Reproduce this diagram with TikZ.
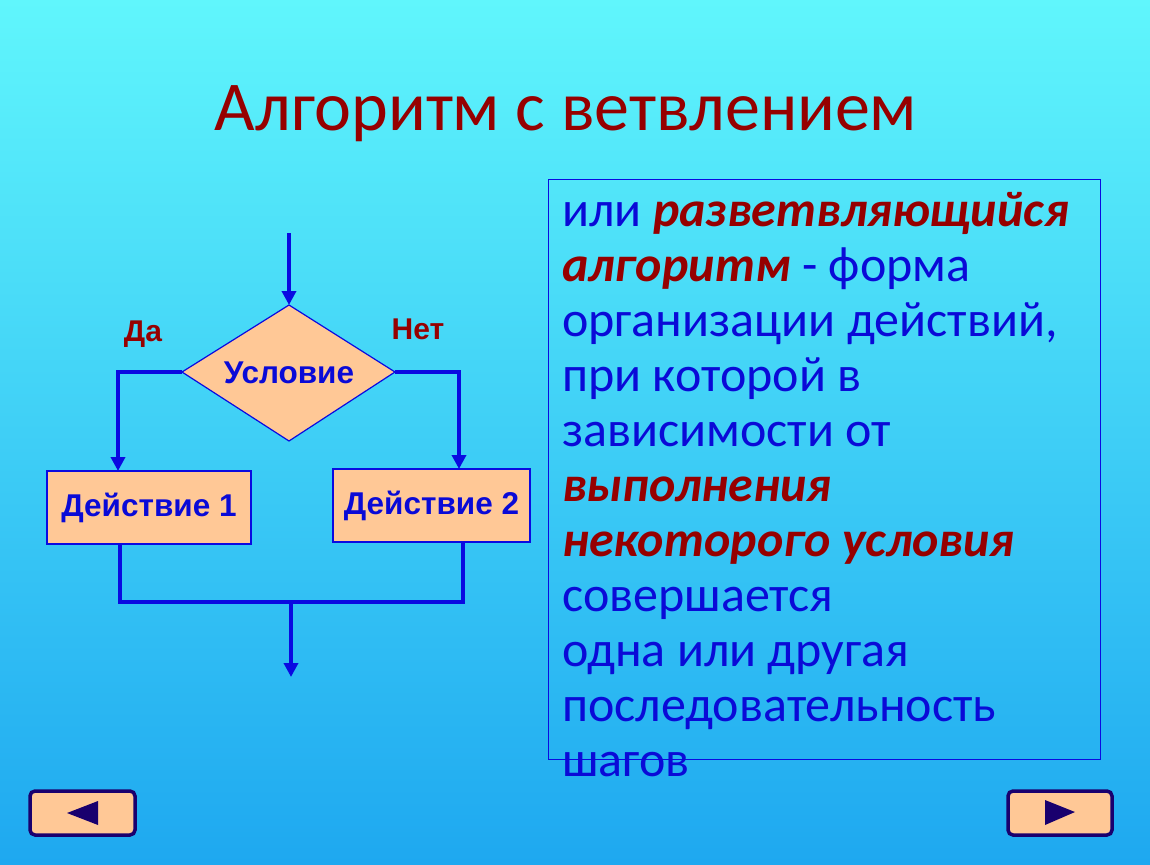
\documentclass[tikz,border=0pt]{standalone}
\usepackage{fontspec}
\setmainfont{Carlito}
\newfontfamily\arialf{Liberation Sans}
\usetikzlibrary{arrows.meta}
\definecolor{bgtop}{RGB}{96,246,252}
\definecolor{bgbot}{RGB}{30,168,240}
\definecolor{dred}{RGB}{150,0,0}
\definecolor{tblue}{RGB}{10,10,215}
\definecolor{lblue}{RGB}{10,10,225}
\definecolor{peach}{RGB}{255,200,150}
\definecolor{navy}{RGB}{25,0,110}
\tikzset{
  flow/.style={draw=lblue, line width=4pt},
  arr/.style={flow, -{Triangle[length=14pt,width=14pt]}},
  actbox/.style={draw=lblue, line width=1.2pt, fill=peach, minimum width=204pt, minimum height=73pt, inner sep=0pt,
    font=\arialf\bfseries\fontsize{31.5}{36}\selectfont, text=tblue},
  lbl/.style={font=\arialf\bfseries\fontsize{30}{34}\selectfont, text=dred},
  txt/.style={anchor=base west, inner sep=0pt, font=\fontsize{50}{56}\selectfont, text=tblue},
  navbtn/.style={draw=navy, line width=3.5pt, fill=peach, rounded corners=5pt},
}
\newcommand{\redit}[1]{{\bfseries\itshape\color{dred}#1}}
\begin{document}
\begin{tikzpicture}[x=1pt,y=-1pt]
\useasboundingbox (0,0) rectangle (1150,864);
\shade[top color=bgtop, bottom color=bgbot] (0,0) rectangle (1150,864);

% title
\node[anchor=base, inner sep=0pt, font=\fontsize{70}{80}\selectfont, text=dred] (title) at (566,131) {Алгоритм с ветвлением};

% flowchart
\coordinate (start) at (289,233);
\draw[draw=lblue, line width=1.2pt, fill=peach] (182,372) -- (289,305) -- (395,372) -- (289,441) -- cycle;
\coordinate (dl) at (182,372);
\coordinate (dt) at (289,305);
\coordinate (dr) at (395,372);
\node[inner sep=0pt, font=\arialf\bfseries\fontsize{31.5}{36}\selectfont, text=tblue] (cond) at (289,373) {Условие};
\node[actbox] (a1) at (149,507.5) {Действие 1};
\node[actbox, minimum width=197pt] (a2) at (431.5,505.5) {Действие 2};
\node[lbl] (yes) at (143,334) {Да};
\node[lbl] (no) at (418,329) {Нет};

\coordinate (a1in) at (118,471);
\coordinate (a2in) at (459,469);
\draw[arr] (start) -- (dt);
\draw[arr] (dl) -- (118,372) -- (a1in);
\draw[arr] (dr) -- (459,372) -- (a2in);
\coordinate (a1out) at (120,544);
\coordinate (a2out) at (463,542);
\coordinate (join) at (291,602);
\coordinate (endp) at (291,677);
\draw[flow] (a1out) -- (120,602) -- (463,602) -- (a2out);
\draw[arr] (join) -- (endp);

% definition box
\draw[draw=lblue, line width=0.8pt] (548,179) rectangle (1100,759);
\node[txt] (l1) at (562,226) {или \redit{разветвляющийся}};
\node[txt] (l2) at (562,281) {\redit{алгоритм} - форма};
\node[txt] (l3) at (562,336) {организации действий,};
\node[txt] (l4) at (562,391) {при которой в};
\node[txt] (l5) at (562,446) {зависимости от};
\node[txt] (l6) at (562,501) {\redit{выполнения}};
\node[txt] (l7) at (562,556) {\redit{некоторого условия}};
\node[txt] (l8) at (562,611) {совершается};
\node[txt] (l9) at (562,666) {одна или другая};
\node[txt] (l10) at (562,721) {последовательность};
\node[txt] (l11) at (562,776) {шагов};

% nav buttons
\draw[navbtn] (30,791) rectangle (135,835);
\fill[navy] (67,813) -- (98,801) -- (98,825) -- cycle;
\draw[navbtn] (1008,791) rectangle (1112,835);
\fill[navy] (1075,812) -- (1045,800) -- (1045,825) -- cycle;
\end{tikzpicture}
\end{document}
